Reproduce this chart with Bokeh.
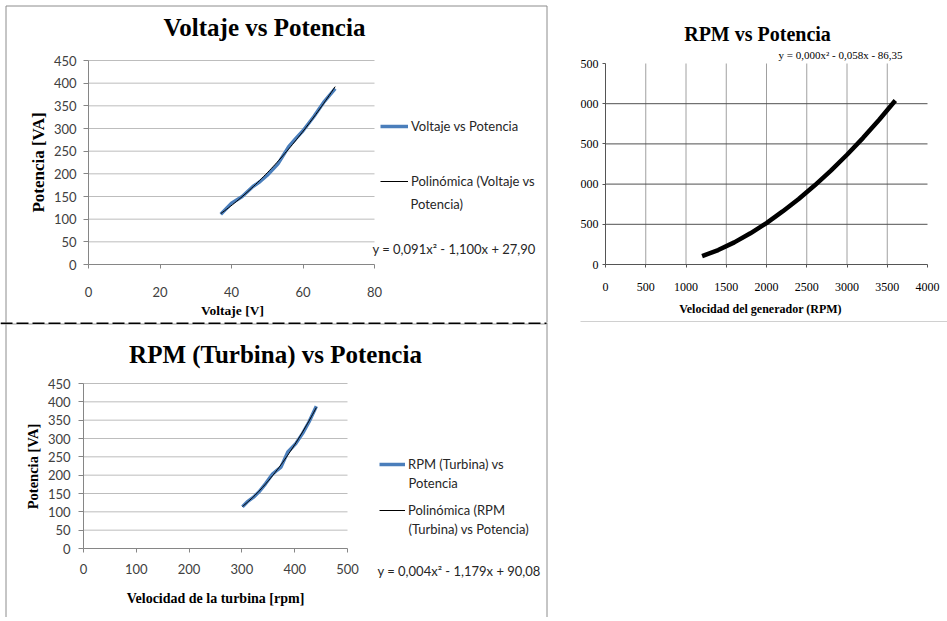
import numpy as np
from bokeh.plotting import figure
from bokeh.models import Range1d, FixedTicker, Label, Legend, LegendItem, Arrow
from bokeh.layouts import row
from bokeh.embed import file_html
from bokeh.resources import INLINE

# ---------------- data ----------------
# Chart 1: Voltaje vs Potencia
volt = [37, 40, 43, 46, 48, 50, 53, 56, 58, 60, 63, 66, 69]
pot_volt = [111, 135, 150, 172, 183, 197, 222, 260, 278, 295, 326, 360, 388]
x_ticks_volt = [0, 20, 40, 60, 80]
y_ticks_pot = [0, 50, 100, 150, 200, 250, 300, 350, 400, 450]

# Chart 2: RPM vs Potencia (generator)
rpm_gen = [1200, 1400, 1600, 1800, 2000, 2200, 2400, 2600, 2800, 3000, 3200, 3400, 3600]
pot_gen = [104, 180, 275, 388, 515, 660, 815, 985, 1168, 1365, 1575, 1800, 2040]
x_ticks_gen = [0, 500, 1000, 1500, 2000, 2500, 3000, 3500, 4000]
y_ticks_gen = [0, 500, 1000, 1500, 2000, 2500]
y_labels_gen = ["0", "500", "000", "500", "000", "500"]   # as visible (cropped) in the picture

# Chart 3: RPM (Turbina) vs Potencia
rpm_turb = [301, 310, 322, 332, 345, 358, 367, 374, 380, 387, 402, 415, 427, 441]
pot_turb = [114, 127, 140, 154, 177, 203, 214, 222, 241, 263, 286, 314, 345, 388]
x_ticks_turb = [0, 100, 200, 300, 400, 500]

# texts
title_1 = "Voltaje vs Potencia"
title_2 = "RPM vs Potencia"
title_3 = "RPM (Turbina) vs Potencia"
xlab_1 = "Voltaje [V]"
xlab_2 = "Velocidad del generador (RPM)"
xlab_3 = "Velocidad de la turbina [rpm]"
ylab = "Potencia [VA]"
eq_1 = "y = 0,091x\u00b2 - 1,100x + 27,90"
eq_2 = "y = 0,000x\u00b2 - 0,058x - 86,35"
eq_3 = "y = 0,004x\u00b2 - 1,179x + 90,08"
leg_1 = ["Voltaje vs Potencia", "Polinómica (Voltaje vs", "Potencia)"]
leg_3 = ["RPM (Turbina) vs", "Potencia", "Polinómica (RPM", "(Turbina) vs Potencia)"]

SERIF = "Liberation Serif"
SANS = "Lato"
NARROW = "Liberation Sans Narrow"
BLUE = "#4a7ebb"
AXIS = "#868686"
GRID = "#bdbdbd"
BORDER = "#8c8c8c"
TXT = "#262626"


def make_fig(W, H, ox, oy, xmap, ymap):
    """Frame covers the whole canvas; xmap/ymap give two (value, canvas px) pairs."""
    (x0, px0), (x1, px1) = xmap
    (y0, py0), (y1, py1) = ymap
    kx = (px1 - px0) / (x1 - x0)
    ky = (py0 - py1) / (y1 - y0)
    xs = x0 - px0 / kx
    ys = y0 - (H - py0) / ky
    p = figure(width=W, height=H, x_range=Range1d(xs, xs + W / kx),
               y_range=Range1d(ys, ys + H / ky),
               output_backend="svg", toolbar_location=None,
               min_border_left=0, min_border_right=0, min_border_top=0, min_border_bottom=0)
    p.outline_line_color = None
    p.background_fill_color = "white"
    p.border_fill_color = "white"
    p.xgrid.visible = False
    p.ygrid.visible = False
    p.xaxis.fixed_location = 0
    p.yaxis.fixed_location = 0
    for ax in (p.xaxis[0], p.yaxis[0]):
        ax.minor_tick_line_color = None
        ax.major_tick_in = 0
    p._geom = (ox, oy, H)
    return p


def label(p, px, py, text, size, font=SANS, style="normal", align="left",
          color=TXT, angle=0.0):
    ox, oy, H = p._geom
    p.add_layout(Label(x=px - ox, y=oy + H - py, x_units="screen", y_units="screen",
                       text=text, text_font=font, text_font_size=f"{size}px",
                       text_font_style=style, text_align=align, text_baseline="middle",
                       text_color=color, angle=angle))


def seg(p, xa, ya, xb, yb, color=BORDER, width=1, dash="solid"):
    ox, oy, H = p._geom
    p.add_layout(Arrow(start=None, end=None, x_start=xa - ox, y_start=oy + H - ya,
                       x_end=xb - ox, y_end=oy + H - yb,
                       start_units="screen", end_units="screen",
                       line_color=color, line_width=width, line_dash=dash))


def style_excel_axes(p, xt, yt, xstand, ystand):
    p.xaxis.ticker = FixedTicker(ticks=xt)
    p.yaxis.ticker = FixedTicker(ticks=yt)
    p.xaxis.bounds = (xt[0], xt[-1])
    p.yaxis.bounds = (yt[0], yt[-1])
    for ax in (p.xaxis[0], p.yaxis[0]):
        ax.axis_line_color = AXIS
        ax.major_tick_line_color = AXIS
        ax.major_label_text_font = SANS
        ax.major_label_text_font_size = "13px"
        ax.major_label_text_color = "#404040"
    p.xaxis.major_tick_out = 4
    p.yaxis.major_tick_out = 5
    p.xaxis.major_label_standoff = xstand
    p.yaxis.major_label_standoff = ystand
    gy = yt[1:]
    p.segment(x0=[xt[0]] * len(gy), y0=gy, x1=[xt[-1]] * len(gy), y1=gy,
              line_color=GRID, line_width=1)


def legend(p, items, px_left, py_bottom, spacing, gw):
    ox, oy, H = p._geom
    p.add_layout(Legend(items=items, location=(px_left - ox, oy + H - py_bottom),
                        padding=0, margin=0, spacing=spacing,
                        glyph_width=gw, glyph_height=20, label_height=20, label_standoff=3,
                        label_text_font=SANS, label_text_font_size="13px",
                        label_text_color=TXT, border_line_color=None,
                        background_fill_alpha=0), "center")


# ---------------- chart 1 ----------------
pA = make_fig(572, 322, 0, 0, ((0, 88), (80, 374)), ((0, 264), (450, 60)))
style_excel_axes(pA, x_ticks_volt, y_ticks_pot, 18, 7)
rA = pA.line(volt, pot_volt, line_color=BLUE, line_width=3.5)
cA = np.polyfit(volt, pot_volt, 2)
xa = np.linspace(min(volt), max(volt), 60)
tA = pA.line(xa, np.polyval(cA, xa), line_color="black", line_width=1)
legend(pA, [LegendItem(label=leg_1[0], renderers=[rA]),
            LegendItem(label=leg_1[1], renderers=[tA])], 380, 191, 35, 28)
label(pA, 410, 203, leg_1[2], 13)
label(pA, 372, 248, eq_1, 13)
label(pA, 264, 27, title_1, 25, font=SERIF, style="bold", align="center", color="black")
label(pA, 232, 310, xlab_1, 13.5, font=SERIF, style="bold", align="center", color="black")
label(pA, 37.5, 162, ylab, 17, font=SERIF, style="bold", align="center", color="black",
      angle=np.pi / 2)
seg(pA, 5.5, 5.5, 546.5, 5.5)
seg(pA, 5.5, 5.5, 5.5, 330)
seg(pA, 546.5, 5.5, 546.5, 330)

# ---------------- chart 2 ----------------
pB = make_fig(375, 322, 572, 0, ((0, 33), (4000, 355)), ((0, 264), (2500, 63)))
pB.xaxis.ticker = FixedTicker(ticks=x_ticks_gen)
pB.yaxis.ticker = FixedTicker(ticks=y_ticks_gen)
pB.xaxis.bounds = (x_ticks_gen[0], x_ticks_gen[-1])
pB.yaxis.bounds = (y_ticks_gen[0], y_ticks_gen[-1])
pB.yaxis.major_label_overrides = {t: s for t, s in zip(y_ticks_gen, y_labels_gen)}
for ax in (pB.xaxis[0], pB.yaxis[0]):
    ax.axis_line_color = "#555555"
    ax.major_tick_line_color = "#555555"
    ax.major_label_text_font = NARROW
    ax.major_label_text_font_size = "12px"
    ax.major_label_text_color = "black"
    ax.major_tick_out = 3
pB.xaxis.major_label_standoff = 15
pB.yaxis.major_label_standoff = 4
gx = x_ticks_gen[1:-1]
pB.segment(x0=gx, y0=[y_ticks_gen[0]] * len(gx), x1=gx, y1=[y_ticks_gen[-1]] * len(gx),
           line_color="#a0a0a0", line_width=1)
gyb = y_ticks_gen[1:-1]
pB.segment(x0=[x_ticks_gen[0]] * len(gyb), y0=gyb, x1=[x_ticks_gen[-1]] * len(gyb), y1=gyb,
           line_color="#505050", line_width=1)
pB.line(rpm_gen, pot_gen, line_color="black", line_width=4.5)
label(pB, 757, 33, title_2, 20, font=SERIF, style="bold", align="center", color="black")
label(pB, 778, 54.5, eq_2, 11, font=NARROW, color="black")
label(pB, 760, 308.5, xlab_2, 12, font=SERIF, style="bold", align="center", color="black")
seg(pB, 580, 321.5, 947, 321.5, color="#a0a0a0")

# ---------------- chart 3 ----------------
pC = make_fig(572, 295, 0, 322, ((0, 83), (500, 347)), ((0, 226), (450, 61)))
style_excel_axes(pC, x_ticks_turb, y_ticks_pot, 11, 8)
rC = pC.line(rpm_turb, pot_turb, line_color=BLUE, line_width=3.5)
cC = np.polyfit(rpm_turb, pot_turb, 2)
xc = np.linspace(min(rpm_turb), max(rpm_turb), 60)
tC = pC.line(xc, np.polyval(cC, xc), line_color="black", line_width=1)
legend(pC, [LegendItem(label=leg_3[0], renderers=[rC]),
            LegendItem(label=leg_3[2], renderers=[tC])], 379, 520, 26, 26)
label(pC, 408, 482, leg_3[1], 13)
label(pC, 408, 528, leg_3[3], 13)
label(pC, 377, 570, eq_3, 13)
label(pC, 275, 353.5, title_3, 25, font=SERIF, style="bold", align="center", color="black")
label(pC, 215, 598, xlab_3, 14, font=SERIF, style="bold", align="center", color="black")
label(pC, 32, 466, ylab, 14.5, font=SERIF, style="bold", align="center", color="black",
      angle=np.pi / 2)
seg(pC, 5.5, 310, 5.5, 630)
seg(pC, 546.5, 310, 546.5, 630)
seg(pC, 0, 323.5, 546, 323.5, color="#9a9a9a")
seg(pC, 0, 322.5, 546, 322.5, color="black", width=2, dash="12 4")

with open("out.html", "w") as f:
    f.write(file_html([row(pA, pB), pC], INLINE))
